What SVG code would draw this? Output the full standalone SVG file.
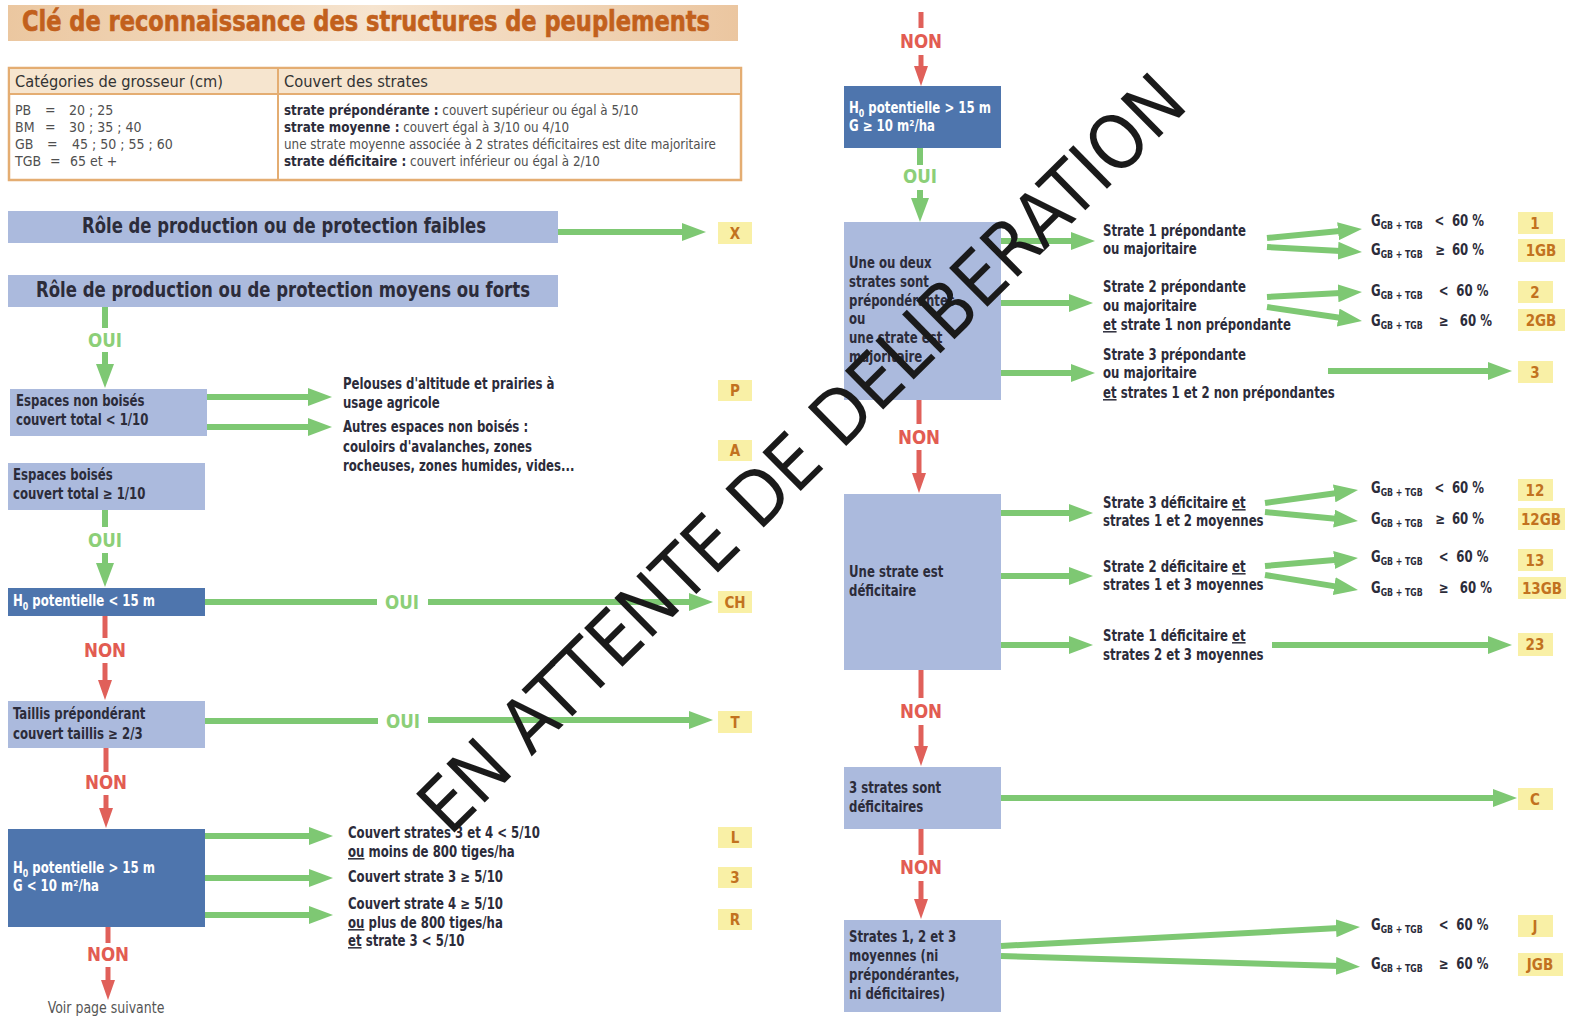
<svg xmlns="http://www.w3.org/2000/svg" width="1572" height="1021" viewBox="0 0 1572 1021">
<style>
text{font-family:'Liberation Sans Narrow','DejaVu Sans Condensed','Liberation Sans',sans-serif}
.t{font-size:15px;font-weight:bold;fill:#2c2c3a}
.wt{font-size:15px;font-weight:bold;fill:#ffffff}
.tb{font-size:14px;fill:#505050}
.tbb{font-weight:bold;fill:#2c2c3a}
.th{font-size:16px;fill:#333333}
.bar{font-size:21px;font-weight:bold;fill:#2c2c3a}
.lt{font-size:15px;font-weight:bold;fill:#c2721f;text-anchor:middle}
.oui{font-size:20px;font-weight:bold;fill:#8ccf78;text-anchor:middle}
.non{font-size:20px;font-weight:bold;fill:#e25c52;text-anchor:middle}
.sub{font-size:10px}
.u{text-decoration:underline}
.lb{fill:#abbadd}
.db{fill:#4e75ad}
.yb{fill:#f9f0a6}
.g{stroke:#7ec873;stroke-width:6;fill:none}
.r{stroke:#e0605a;stroke-width:5;fill:none}
</style>
<defs>
<linearGradient id="tg" x1="0" y1="0" x2="1" y2="0">
<stop offset="0" stop-color="#ebc7a0"/>
<stop offset="0.5" stop-color="#f6e4cf"/>
<stop offset="1" stop-color="#ebc6a0"/>
</linearGradient>
<marker id="ag" viewBox="0 0 24 18" refX="12" refY="9" markerWidth="24" markerHeight="18" markerUnits="userSpaceOnUse" orient="auto">
<path d="M0,0 L24,9 L0,18 Z" fill="#7ec873"/>
</marker>
<marker id="ar" viewBox="0 0 20 14" refX="10" refY="7" markerWidth="20" markerHeight="14" markerUnits="userSpaceOnUse" orient="auto">
<path d="M0,0 L20,7 L0,14 Z" fill="#e0605a"/>
</marker>
</defs>
<rect width="1572" height="1021" fill="#ffffff"/>

<g id="title">
<rect x="8" y="5" width="730" height="36" fill="url(#tg)"/>
<text x="22" y="31" font-size="28" font-weight="bold" fill="#c2601c" stroke="#c2601c" stroke-width="0.6" textLength="688" lengthAdjust="spacingAndGlyphs">Clé de reconnaissance des structures de peuplements</text>
</g>

<g id="table">
<rect x="9" y="68" width="732" height="112" fill="#ffffff" stroke="#e4ad72" stroke-width="2.5"/>
<rect x="10" y="69" width="730" height="25" fill="#f6e5cf"/>
<line x1="9" y1="94" x2="741" y2="94" stroke="#e4ad72" stroke-width="2"/>
<line x1="278" y1="68" x2="278" y2="180" stroke="#e4ad72" stroke-width="2"/>
<text class="th" x="15" y="87" textLength="208" lengthAdjust="spacingAndGlyphs">Catégories de grosseur (cm)</text>
<text class="th" x="284" y="87" textLength="144" lengthAdjust="spacingAndGlyphs">Couvert des strates</text>
<text class="tb" x="15" y="115">PB</text><text class="tb" x="45" y="115">=</text><text class="tb" x="69" y="115">20 ; 25</text>
<text class="tb" x="15" y="132">BM</text><text class="tb" x="45" y="132">=</text><text class="tb" x="69" y="132">30 ; 35 ; 40</text>
<text class="tb" x="15" y="149">GB</text><text class="tb" x="47" y="149">=</text><text class="tb" x="72" y="149">45 ; 50 ; 55 ; 60</text>
<text class="tb" x="15" y="166">TGB</text><text class="tb" x="50" y="166">=</text><text class="tb" x="70" y="166">65 et +</text>
<g transform="translate(284 0) scale(0.95 1)">
<text class="tb" x="0" y="115"><tspan class="tbb">strate prépondérante :</tspan> couvert supérieur ou égal à 5/10</text>
<text class="tb" x="0" y="132"><tspan class="tbb">strate moyenne :</tspan> couvert égal à 3/10 ou 4/10</text>
<text class="tb" x="0" y="149">une strate moyenne associée à 2 strates déficitaires est dite majoritaire</text>
<text class="tb" x="0" y="166"><tspan class="tbb">strate déficitaire :</tspan> couvert inférieur ou égal à 2/10</text>
</g>
</g>

<g id="bar-faibles">
<rect class="lb" x="8" y="211" width="550" height="32"/>
<text class="bar" x="82" y="233" textLength="404" lengthAdjust="spacingAndGlyphs">Rôle de production ou de protection faibles</text>
</g>
<g id="bar-forts">
<rect class="lb" x="8" y="275" width="550" height="32"/>
<text class="bar" x="36" y="297" textLength="494" lengthAdjust="spacingAndGlyphs">Rôle de production ou de protection moyens ou forts</text>
</g>

<g id="n-nonboises">
<rect class="lb" x="10" y="389" width="197" height="47"/>
<g transform="translate(16 0) scale(0.87 1)">
<text class="t" x="0" y="406">Espaces non boisés</text>
<text class="t" x="0" y="425">couvert total &lt; 1/10</text>
</g>
</g>
<g id="n-boises">
<rect class="lb" x="8" y="463" width="197" height="47"/>
<g transform="translate(13 0) scale(0.87 1)">
<text class="t" x="0" y="480">Espaces boisés</text>
<text class="t" x="0" y="499">couvert total ≥ 1/10</text>
</g>
</g>
<g id="n-h15">
<rect class="db" x="8" y="588" width="197" height="28"/>
<g transform="translate(13 0) scale(0.87 1)">
<text class="wt" x="0" y="606">H<tspan class="sub" dy="4">0</tspan><tspan dy="-4"> potentielle &lt; 15 m</tspan></text>
</g>
</g>
<g id="n-taillis">
<rect class="lb" x="8" y="701" width="197" height="47"/>
<g transform="translate(13 0) scale(0.87 1)">
<text class="t" x="0" y="719">Taillis prépondérant</text>
<text class="t" x="0" y="739">couvert taillis ≥ 2/3</text>
</g>
</g>
<g id="n-hg10">
<rect class="db" x="8" y="829" width="197" height="98"/>
<g transform="translate(13 0) scale(0.87 1)">
<text class="wt" x="0" y="873">H<tspan class="sub" dy="4">0</tspan><tspan dy="-4"> potentielle &gt; 15 m</tspan></text>
<text class="wt" x="0" y="891">G &lt; 10 m²/ha</text>
</g>
</g>
<g id="n-suivante">
<text x="0" y="0" font-size="15" fill="#555555" text-anchor="middle" transform="translate(106 1013) scale(0.93 1)">Voir page suivante</text>
</g>

<g id="mid-texts">
<g transform="translate(343 0) scale(0.87 1)">
<text class="t" x="0" y="389">Pelouses d'altitude et prairies à</text>
<text class="t" x="0" y="408">usage agricole</text>
<text class="t" x="0" y="432">Autres espaces non boisés :</text>
<text class="t" x="0" y="452">couloirs d'avalanches, zones</text>
<text class="t" x="0" y="471">rocheuses, zones humides, vides...</text>
</g>
<g transform="translate(348 0) scale(0.87 1)">
<text class="t" x="0" y="838">Couvert strates 3 et 4 &lt; 5/10</text>
<text class="t" x="0" y="857"><tspan class="u">ou</tspan> moins de 800 tiges/ha</text>
<text class="t" x="0" y="882">Couvert strate 3 ≥ 5/10</text>
<text class="t" x="0" y="909">Couvert strate 4 ≥ 5/10</text>
<text class="t" x="0" y="928"><tspan class="u">ou</tspan> plus de 800 tiges/ha</text>
<text class="t" x="0" y="946"><tspan class="u">et</tspan> strate 3 &lt; 5/10</text>
</g>
</g>

<g id="res-left">
<rect class="yb" x="718" y="222" width="34" height="22"/><text class="lt" x="735" y="239">X</text>
<rect class="yb" x="718" y="380" width="34" height="21"/><text class="lt" x="735" y="396">P</text>
<rect class="yb" x="718" y="440" width="34" height="21"/><text class="lt" x="735" y="456">A</text>
<rect class="yb" x="718" y="591" width="34" height="22"/><text class="lt" x="735" y="608">CH</text>
<rect class="yb" x="718" y="711" width="34" height="22"/><text class="lt" x="735" y="728">T</text>
<rect class="yb" x="718" y="827" width="34" height="21"/><text class="lt" x="735" y="843">L</text>
<rect class="yb" x="718" y="867" width="34" height="21"/><text class="lt" x="735" y="883">3</text>
<rect class="yb" x="718" y="909" width="34" height="21"/><text class="lt" x="735" y="925">R</text>
</g>

<g id="r-h15g10">
<rect class="db" x="844" y="86" width="157" height="62"/>
<g transform="translate(849 0) scale(0.87 1)">
<text class="wt" x="0" y="113">H<tspan class="sub" dy="4">0</tspan><tspan dy="-4"> potentielle &gt; 15 m</tspan></text>
<text class="wt" x="0" y="131">G ≥ 10 m²/ha</text>
</g>
</g>
<g id="r-prep">
<rect class="lb" x="844" y="222" width="157" height="178"/>
<g transform="translate(849 0) scale(0.87 1)">
<text class="t" x="0" y="268">Une ou deux</text>
<text class="t" x="0" y="287">strates sont</text>
<text class="t" x="0" y="306">prépondérantes</text>
<text class="t" x="0" y="324">ou</text>
<text class="t" x="0" y="343">une strate est</text>
<text class="t" x="0" y="362">majoritaire</text>
</g>
</g>
<g id="r-def">
<rect class="lb" x="844" y="494" width="157" height="176"/>
<g transform="translate(849 0) scale(0.87 1)">
<text class="t" x="0" y="577">Une strate est</text>
<text class="t" x="0" y="596">déficitaire</text>
</g>
</g>
<g id="r-3def">
<rect class="lb" x="844" y="767" width="157" height="62"/>
<g transform="translate(849 0) scale(0.87 1)">
<text class="t" x="0" y="793">3 strates sont</text>
<text class="t" x="0" y="812">déficitaires</text>
</g>
</g>
<g id="r-moy">
<rect class="lb" x="844" y="920" width="157" height="92"/>
<g transform="translate(849 0) scale(0.87 1)">
<text class="t" x="0" y="942">Strates 1, 2 et 3</text>
<text class="t" x="0" y="961">moyennes (ni</text>
<text class="t" x="0" y="980">prépondérantes,</text>
<text class="t" x="0" y="999">ni déficitaires)</text>
</g>
</g>

<g id="r-texts" transform="translate(1103 0) scale(0.87 1)">
<text class="t" x="0" y="236">Strate 1 prépondante</text>
<text class="t" x="0" y="254">ou majoritaire</text>
<text class="t" x="0" y="292">Strate 2 prépondante</text>
<text class="t" x="0" y="311">ou majoritaire</text>
<text class="t" x="0" y="330"><tspan class="u">et</tspan> strate 1 non prépondante</text>
<text class="t" x="0" y="360">Strate 3 prépondante</text>
<text class="t" x="0" y="378">ou majoritaire</text>
<text class="t" x="0" y="398"><tspan class="u">et</tspan> strates 1 et 2 non prépondantes</text>
<text class="t" x="0" y="508">Strate 3 déficitaire <tspan class="u">et</tspan></text>
<text class="t" x="0" y="526">strates 1 et 2 moyennes</text>
<text class="t" x="0" y="572">Strate 2 déficitaire <tspan class="u">et</tspan></text>
<text class="t" x="0" y="590">strates 1 et 3 moyennes</text>
<text class="t" x="0" y="641">Strate 1 déficitaire <tspan class="u">et</tspan></text>
<text class="t" x="0" y="660">strates 2 et 3 moyennes</text>
</g>

<g id="g-labels" transform="translate(1371 0) scale(0.87 1)">
<text class="t" x="0" y="226">G<tspan class="sub" dy="3">GB + TGB</tspan><tspan x="73" y="226">&lt;</tspan><tspan x="93">60 %</tspan></text>
<text class="t" x="0" y="255">G<tspan class="sub" dy="3">GB + TGB</tspan><tspan x="74" y="255">≥</tspan><tspan x="93">60 %</tspan></text>
<text class="t" x="0" y="296">G<tspan class="sub" dy="3">GB + TGB</tspan><tspan x="78" y="296">&lt;</tspan><tspan x="98">60 %</tspan></text>
<text class="t" x="0" y="326">G<tspan class="sub" dy="3">GB + TGB</tspan><tspan x="78" y="326">≥</tspan><tspan x="102">60 %</tspan></text>
<text class="t" x="0" y="493">G<tspan class="sub" dy="3">GB + TGB</tspan><tspan x="73" y="493">&lt;</tspan><tspan x="93">60 %</tspan></text>
<text class="t" x="0" y="524">G<tspan class="sub" dy="3">GB + TGB</tspan><tspan x="74" y="524">≥</tspan><tspan x="93">60 %</tspan></text>
<text class="t" x="0" y="562">G<tspan class="sub" dy="3">GB + TGB</tspan><tspan x="78" y="562">&lt;</tspan><tspan x="98">60 %</tspan></text>
<text class="t" x="0" y="593">G<tspan class="sub" dy="3">GB + TGB</tspan><tspan x="78" y="593">≥</tspan><tspan x="102">60 %</tspan></text>
<text class="t" x="0" y="930">G<tspan class="sub" dy="3">GB + TGB</tspan><tspan x="78" y="930">&lt;</tspan><tspan x="98">60 %</tspan></text>
<text class="t" x="0" y="969">G<tspan class="sub" dy="3">GB + TGB</tspan><tspan x="78" y="969">≥</tspan><tspan x="98">60 %</tspan></text>
</g>

<g id="res-right">
<rect class="yb" x="1518" y="212" width="35" height="22"/><text class="lt" x="1535" y="229">1</text>
<rect class="yb" x="1518" y="239" width="47" height="23"/><text class="lt" x="1541" y="256">1GB</text>
<rect class="yb" x="1518" y="281" width="35" height="22"/><text class="lt" x="1535" y="298">2</text>
<rect class="yb" x="1518" y="309" width="47" height="22"/><text class="lt" x="1541" y="326">2GB</text>
<rect class="yb" x="1518" y="361" width="35" height="22"/><text class="lt" x="1535" y="378">3</text>
<rect class="yb" x="1518" y="479" width="35" height="22"/><text class="lt" x="1535" y="496">12</text>
<rect class="yb" x="1518" y="508" width="47" height="22"/><text class="lt" x="1541" y="525">12GB</text>
<rect class="yb" x="1518" y="549" width="35" height="22"/><text class="lt" x="1535" y="566">13</text>
<rect class="yb" x="1518" y="577" width="48" height="22"/><text class="lt" x="1542" y="594">13GB</text>
<rect class="yb" x="1518" y="633" width="35" height="23"/><text class="lt" x="1535" y="650">23</text>
<rect class="yb" x="1518" y="788" width="35" height="22"/><text class="lt" x="1535" y="805">C</text>
<rect class="yb" x="1518" y="915" width="35" height="22"/><text class="lt" x="1535" y="932">J</text>
<rect class="yb" x="1518" y="953" width="45" height="23"/><text class="lt" x="1540" y="970">JGB</text>
</g>

<g id="connectors">
<line class="g" x1="558" y1="232" x2="694" y2="232" marker-end="url(#ag)"/>
<line class="g" x1="105" y1="307" x2="105" y2="328"/>
<text class="oui" x="0" y="0" transform="translate(105 347) scale(0.93 1)">OUI</text>
<line class="g" x1="105" y1="352" x2="105" y2="376" marker-end="url(#ag)"/>
<line class="g" x1="207" y1="397" x2="320" y2="397" marker-end="url(#ag)"/>
<line class="g" x1="207" y1="427" x2="320" y2="427" marker-end="url(#ag)"/>
<line class="g" x1="105" y1="510" x2="105" y2="527"/>
<text class="oui" x="0" y="0" transform="translate(105 547) scale(0.93 1)">OUI</text>
<line class="g" x1="105" y1="553" x2="105" y2="575" marker-end="url(#ag)"/>
<line class="g" x1="205" y1="602" x2="377" y2="602"/>
<text class="oui" x="0" y="0" transform="translate(402 609) scale(0.93 1)">OUI</text>
<line class="g" x1="428" y1="602" x2="701" y2="602" marker-end="url(#ag)"/>
<line class="r" x1="105" y1="616" x2="105" y2="638"/>
<text class="non" x="0" y="0" transform="translate(105 657) scale(0.93 1)">NON</text>
<line class="r" x1="105" y1="663" x2="105" y2="690" marker-end="url(#ar)"/>
<line class="g" x1="205" y1="721" x2="378" y2="721"/>
<text class="oui" x="0" y="0" transform="translate(403 728) scale(0.93 1)">OUI</text>
<line class="g" x1="428" y1="720" x2="701" y2="720" marker-end="url(#ag)"/>
<line class="r" x1="106" y1="748" x2="106" y2="772"/>
<text class="non" x="0" y="0" transform="translate(106 789) scale(0.93 1)">NON</text>
<line class="r" x1="106" y1="795" x2="106" y2="818" marker-end="url(#ar)"/>
<line class="g" x1="205" y1="836" x2="321" y2="836" marker-end="url(#ag)"/>
<line class="g" x1="205" y1="878" x2="321" y2="878" marker-end="url(#ag)"/>
<line class="g" x1="205" y1="915" x2="321" y2="915" marker-end="url(#ag)"/>
<line class="r" x1="108" y1="927" x2="108" y2="943"/>
<text class="non" x="0" y="0" transform="translate(108 961) scale(0.93 1)">NON</text>
<line class="r" x1="108" y1="967" x2="108" y2="990" marker-end="url(#ar)"/>

<line class="r" x1="921" y1="12" x2="921" y2="28"/>
<text class="non" x="0" y="0" transform="translate(921 48) scale(0.93 1)">NON</text>
<line class="r" x1="921" y1="55" x2="921" y2="76" marker-end="url(#ar)"/>
<line class="g" x1="920" y1="148" x2="920" y2="165"/>
<text class="oui" x="0" y="0" transform="translate(920 183) scale(0.93 1)">OUI</text>
<line class="g" x1="920" y1="190" x2="920" y2="210" marker-end="url(#ag)"/>
<line class="g" x1="1001" y1="241" x2="1083" y2="241" marker-end="url(#ag)"/>
<line class="g" x1="1001" y1="303" x2="1081" y2="303" marker-end="url(#ag)"/>
<line class="g" x1="1001" y1="373" x2="1083" y2="373" marker-end="url(#ag)"/>
<line class="g" x1="1267" y1="238" x2="1350" y2="230.1" marker-end="url(#ag)"/>
<line class="g" x1="1267" y1="247" x2="1350" y2="251.4" marker-end="url(#ag)"/>
<line class="g" x1="1267" y1="297" x2="1350" y2="292.6" marker-end="url(#ag)"/>
<line class="g" x1="1267" y1="307" x2="1350.1" y2="319.3" marker-end="url(#ag)"/>
<line class="g" x1="1328" y1="371" x2="1500" y2="371" marker-end="url(#ag)"/>
<line class="r" x1="919" y1="400" x2="919" y2="424"/>
<text class="non" x="0" y="0" transform="translate(919 444) scale(0.93 1)">NON</text>
<line class="r" x1="919" y1="450" x2="919" y2="483" marker-end="url(#ar)"/>
<line class="g" x1="1001" y1="513" x2="1081" y2="513" marker-end="url(#ag)"/>
<line class="g" x1="1001" y1="576" x2="1081" y2="576" marker-end="url(#ag)"/>
<line class="g" x1="1001" y1="645" x2="1081" y2="645" marker-end="url(#ag)"/>
<line class="g" x1="1265" y1="503" x2="1346.1" y2="491.7" marker-end="url(#ag)"/>
<line class="g" x1="1265" y1="512" x2="1346" y2="519.8" marker-end="url(#ag)"/>
<line class="g" x1="1265" y1="566" x2="1346" y2="559" marker-end="url(#ag)"/>
<line class="g" x1="1265" y1="575" x2="1346.1" y2="588.1" marker-end="url(#ag)"/>
<line class="g" x1="1272" y1="645" x2="1500" y2="645" marker-end="url(#ag)"/>
<line class="r" x1="921" y1="670" x2="921" y2="698"/>
<text class="non" x="0" y="0" transform="translate(921 718) scale(0.93 1)">NON</text>
<line class="r" x1="921" y1="725" x2="921" y2="756" marker-end="url(#ar)"/>
<line class="g" x1="1001" y1="798" x2="1505" y2="798" marker-end="url(#ag)"/>
<line class="r" x1="921" y1="829" x2="921" y2="855"/>
<text class="non" x="0" y="0" transform="translate(921 874) scale(0.93 1)">NON</text>
<line class="r" x1="921" y1="881" x2="921" y2="909" marker-end="url(#ar)"/>
<line class="g" x1="1001" y1="946" x2="1348" y2="927.6" marker-end="url(#ag)"/>
<line class="g" x1="1001" y1="956" x2="1348" y2="966.3" marker-end="url(#ag)"/>
</g>

<g id="watermark">
<text x="820" y="472" font-family="'Liberation Sans',Arial,sans-serif" font-size="75" fill="#1a1a1a" text-anchor="middle" transform="rotate(-44.6 820 472)">EN ATTENTE DE DELIBERATION</text>
</g>
</svg>
